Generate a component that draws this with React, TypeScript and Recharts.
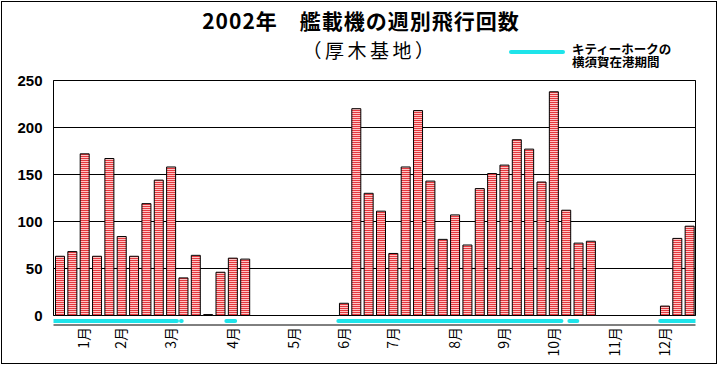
import { ComposedChart, Bar, Line, XAxis, YAxis, CartesianGrid, ReferenceArea } from 'recharts'

// weekly carrier-aircraft flights at Atsugi, 2002
const weeks = [
  1, 2, 3, 4, 5, 6, 7, 8, 9, 10, 11, 12, 13, 14, 15, 16, 17, 18, 19, 20, 21, 22, 23, 24, 25, 26,
  27, 28, 29, 30, 31, 32, 33, 34, 35, 36, 37, 38, 39, 40, 41, 42, 43, 44, 45, 46, 47, 48, 49, 50, 51, 52,
]
const flights = [
  63, 68, 172, 63, 167, 84, 63, 119, 144, 158, 40, 64, 1, 46, 61, 60,
  0, 0, 0, 0, 0, 0, 0,
  13, 220, 130, 111, 66, 158, 218, 143, 81, 107, 75, 135, 151, 160, 187, 177, 142, 238, 112, 77, 79,
  0, 0, 0, 0, 0,
  10, 82, 95,
]

// week under which each month label sits
const monthWeeks = [3, 6, 10, 15, 20, 24, 28, 33, 37, 41, 46, 50]
const monthNames = ['1月', '2月', '3月', '4月', '5月', '6月', '7月', '8月', '9月', '10月', '11月', '12月']

const yTicks = [0, 50, 100, 150, 200, 250]

// Kitty Hawk in port at Yokosuka (days from Jan 1)
const portStart = [0, 72.3, 98, 161.5, 292.5, 344]
const portEnd = [70, 72.7, 103, 288, 297, 364]

const PORT_LEVEL = -5.85 // draws the cyan bar just under the zero line
const CYAN = '#1ee4ea'

const rows = weeks.map((w, i) => ({ week: w, flights: flights[i] }))

const portRows = portStart.flatMap((s, i) => [
  { day: s, level: PORT_LEVEL },
  { day: portEnd[i], level: PORT_LEVEL },
  { day: portEnd[i], level: null },
])

const JP = '"Noto Sans CJK JP", sans-serif'

// month names written sideways, reading upward, hanging below the axis
function MonthTick(props: any) {
  const { x, y, payload } = props
  const k = monthWeeks.indexOf(payload.value)
  if (k < 0) return <g />
  return (
    <g transform={`translate(${x},${y}) rotate(-90)`}>
      <text x={0} y={0} dy={5} textAnchor="end" fontSize={14} fontFamily={JP} fill="#000">
        {monthNames[k]}
      </text>
    </g>
  )
}

export default function App() {
  return (
    <div style={{ position: 'absolute', left: 0, top: 0, width: 718, height: 367, background: '#fff', fontFamily: JP }}>
      <ComposedChart
        width={718}
        height={367}
        data={rows}
        margin={{ top: 80.5, right: 22.5, bottom: 0, left: 0.5 }}
      >
        <defs>
          <pattern id="stripes" width="4" height="2" patternUnits="userSpaceOnUse">
            <rect width="4" height="2" fill="#ffc4c4" />
            <rect width="4" height="1" fill="#e4383e" />
          </pattern>
        </defs>
        <CartesianGrid vertical={false} stroke="#000" />
        <ReferenceArea x1={1} x2={52} y1={0} y2={250} fill="none" stroke="#000" ifOverflow="visible" />
        <XAxis
          dataKey="week"
          interval={0}
          height={42}
          axisLine={false}
          tickLine={false}
          tickSize={0}
          tickMargin={2}
          tick={MonthTick}
        />
        <XAxis xAxisId="port" type="number" dataKey="day" domain={[0, 364]} allowDataOverflow hide />
        <YAxis
          domain={[-10.106, 250]}
          ticks={yTicks}
          allowDataOverflow
          width={53}
          axisLine={false}
          tickLine={false}
          tickMargin={5}
          tick={{ fill: '#000', fontSize: 15, fontWeight: 'bold', fontFamily: '"Liberation Sans", Arial, sans-serif' }}
        />
        <Bar dataKey="flights" barSize={9} fill="url(#stripes)" stroke="#000" strokeWidth={1} isAnimationActive={false} />
        <Line
          data={portRows}
          xAxisId="port"
          dataKey="level"
          stroke={CYAN}
          strokeWidth={4}
          strokeLinecap="round"
          dot={false}
          activeDot={false}
          connectNulls={false}
          isAnimationActive={false}
        />
      </ComposedChart>

      <div style={{ position: 'absolute', left: 0, top: 10, width: 722, height: 21, textAlign: 'center', fontSize: 21, lineHeight: '21px', fontWeight: 'bold', letterSpacing: 1 }}>
        2002年　艦載機の週別飛行回数
      </div>
      <div style={{ position: 'absolute', left: 0, top: 40, width: 740, height: 20, textAlign: 'center', fontSize: 19, lineHeight: '20px', letterSpacing: 3.5 }}>
        （厚木基地）
      </div>

      <div style={{ position: 'absolute', left: 509, top: 50, width: 56, height: 4, borderRadius: 2, background: CYAN }} />
      <div style={{ position: 'absolute', left: 572, top: 42, fontSize: 12.5, lineHeight: '13px', fontWeight: 'bold', whiteSpace: 'pre-line' }}>
        {'キティーホークの\n横須賀在港期間'}
      </div>

      <div style={{ position: 'absolute', left: 1, top: 1, width: 716, height: 363, boxSizing: 'border-box', border: '1px solid #000' }} />
    </div>
  )
}
